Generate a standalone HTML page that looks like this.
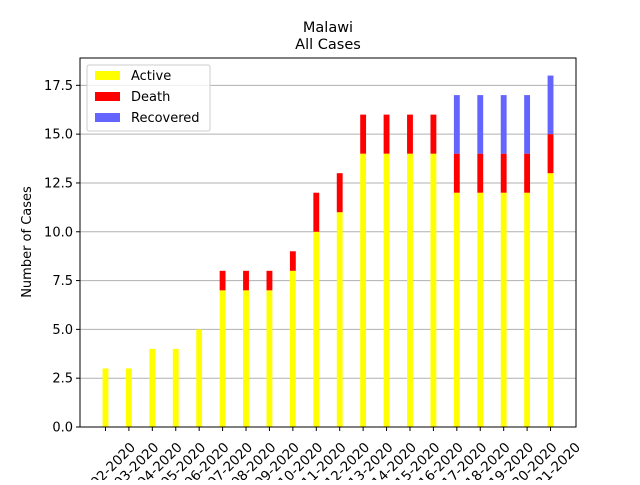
<!DOCTYPE html>
<html><head><meta charset="utf-8"><style>
body{margin:0;background:#fff;}
text{font-family:"DejaVu Sans","Liberation Sans",sans-serif;fill:#000;}
</style></head><body>
<svg id="c" width="640" height="480">
<rect width="640" height="480" fill="#fff"/>
<text x="328" y="32" font-size="14.5" text-anchor="middle">Malawi</text>
<text x="328" y="49" font-size="14.5" text-anchor="middle">All Cases</text>
<g id="grid"></g><g id="bars"></g><g id="axes"></g>
<text transform="translate(31,242) rotate(-90)" font-size="13" text-anchor="middle">Number of Cases</text>
<g>
<rect x="87" y="65" width="123" height="66" rx="2" fill="#fff" fill-opacity="0.8" stroke="#ccc"/>
<rect x="95" y="71" width="25" height="9" fill="#ffff00"/>
<text x="131" y="80" font-size="13">Active</text>
<rect x="95" y="92" width="25" height="9" fill="#ff0000"/>
<text x="131" y="101" font-size="13">Death</text>
<rect x="95" y="113" width="25" height="9" fill="#6464ff"/>
<text x="131" y="122" font-size="13">Recovered</text>
</g>
</svg>
<script>
const categories=["04-02-2020","04-03-2020","04-04-2020","04-05-2020","04-06-2020","04-07-2020","04-08-2020","04-09-2020","04-10-2020","04-11-2020","04-12-2020","04-13-2020","04-14-2020","04-15-2020","04-16-2020","04-17-2020","04-18-2020","04-19-2020","04-20-2020","04-21-2020"];
const active=[3,3,4,4,5,7,7,7,8,10,11,14,14,14,14,12,12,12,12,13];
const death=[0,0,0,0,0,1,1,1,1,2,2,2,2,2,2,2,2,2,2,2];
const recovered=[0,0,0,0,0,0,0,0,0,0,0,0,0,0,0,3,3,3,3,3];
const yTicks=[0,2.5,5,7.5,10,12.5,15,17.5];
const NS="http://www.w3.org/2000/svg";
const L=80,R=576,T=58,B=427;
const n=categories.length,bw=0.25;
const xmin=-bw/2-0.05*(n-1+bw),xmax=n-1+bw/2+0.05*(n-1+bw);
let tot=categories.map((_,i)=>active[i]+death[i]+recovered[i]);
const ymax=Math.max(...tot)*1.05;
const x=v=>L+(v-xmin)/(xmax-xmin)*(R-L);
const y=v=>B-v/ymax*(B-T);
function mk(tag,a,p){const e=document.createElementNS(NS,tag);for(const k in a)e.setAttribute(k,a[k]);document.getElementById(p).appendChild(e);return e;}
yTicks.forEach(t=>{
 const g=mk("line",{x1:L,x2:R,y1:y(t),y2:y(t),stroke:"#b0b0b0","stroke-width":1},"grid");
 
 
 const tk=mk("line",{x1:L-4,x2:L,y1:y(t),y2:y(t),stroke:"#000"},"axes");
 
 
 const tx=mk("text",{x:L-7,y:y(t)+4.5,"font-size":13,"text-anchor":"end"},"axes");
 tx.textContent=t.toFixed(1);
 
 
});
categories.forEach((c,i)=>{
 const cx=x(i),w=x(bw)-x(0);
 const segs=[[0,active[i],"#ffff00","bar-active"],[active[i],death[i],"#ff0000","bar-death"],[active[i]+death[i],recovered[i],"#6464ff","bar-recovered"]];
 segs.forEach(s=>{if(s[1]<=0)return;
  const r=mk("rect",{x:cx-w/2,width:w,y:y(s[0]+s[1]),height:y(s[0])-y(s[0]+s[1]),fill:s[2]},"bars");
  
  
 });
 const tk=mk("line",{x1:cx,x2:cx,y1:B,y2:B+4,stroke:"#000"},"axes");
 
 
 const tx=mk("text",{x:0,y:0,"font-size":13.5,"text-anchor":"middle","dominant-baseline":"central",transform:`translate(${cx},${B+46}) rotate(-45)`},"axes");
 tx.textContent=c;
 
 
});
const fr=mk("rect",{x:L,y:T,width:R-L,height:B-T,fill:"none",stroke:"#000","stroke-width":1},"axes");


</script>
</body></html>
